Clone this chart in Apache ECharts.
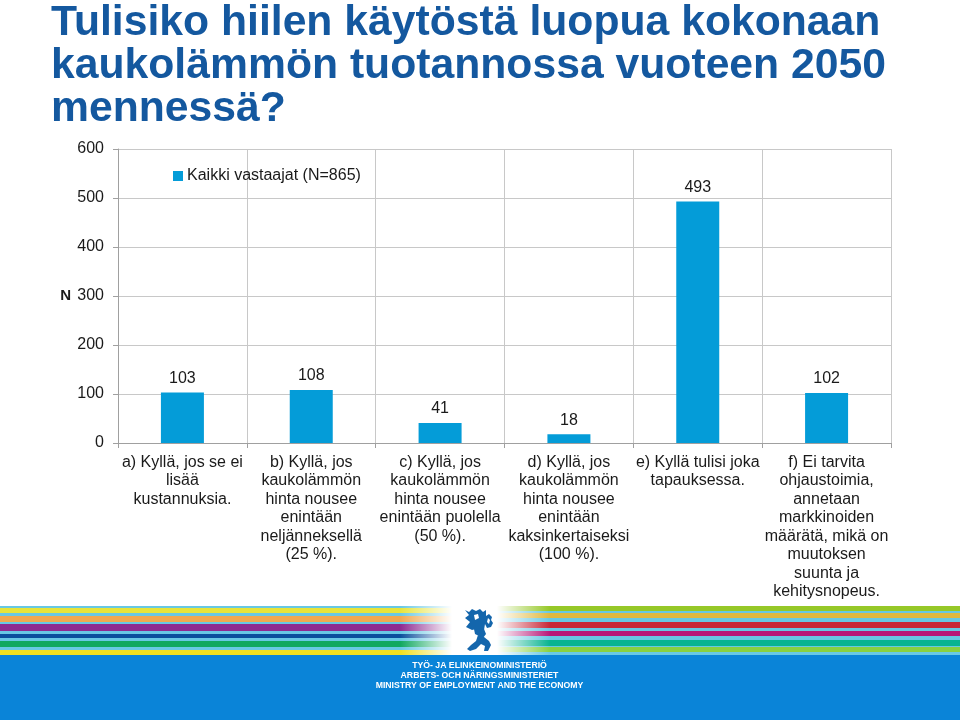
<!DOCTYPE html>
<html><head><meta charset="utf-8">
<style>html,body{margin:0;padding:0;background:#fff}#c{width:960px;height:720px}</style>
<script src="https://cdn.jsdelivr.net/npm/echarts@6/dist/echarts.min.js"></script>
</head><body><div id="c"></div>
<script>
const titleText = "Tulisiko hiilen käytöstä luopua kokonaan\nkaukolämmön tuotannossa vuoteen 2050\nmennessä?";
const seriesName = "Kaikki vastaajat (N=865)";
const categories = [
 "a) Kyllä, jos se ei\nlisää\nkustannuksia.",
 "b) Kyllä, jos\nkaukolämmön\nhinta nousee\nenintään\nneljänneksellä\n(25 %).",
 "c) Kyllä, jos\nkaukolämmön\nhinta nousee\nenintään puolella\n(50 %).",
 "d) Kyllä, jos\nkaukolämmön\nhinta nousee\nenintään\nkaksinkertaiseksi\n(100 %).",
 "e) Kyllä tulisi joka\ntapauksessa.",
 "f) Ei tarvita\nohjaustoimia,\nannetaan\nmarkkinoiden\nmäärätä, mikä on\nmuutoksen\nsuunta ja\nkehitysnopeus."
];
const values = [103,108,41,18,493,102];
const footerLines = ["TYÖ- JA ELINKEINOMINISTERIÖ","ARBETS- OCH NÄRINGSMINISTERIET","MINISTRY OF EMPLOYMENT AND THE ECONOMY"];
const font = '"Liberation Sans", Arial, sans-serif';

const leftStripes = [[608,5,'#e8e43a'],[616,6,'#f0a850'],[624,7,'#8e2a90'],[634,4,'#0b4f9c'],[641,6,'#10a860'],[650,5,'#f0e020']];
const rightStripes = [[606,5,'#96c828'],[613,5,'#e0b840'],[622,6,'#c82838'],[631,5,'#b81878'],[640,6,'#08b490'],[647,5,'#88d040']];
const stripe = (x,w,s)=>({type:'rect',silent:true,shape:{x:x,y:s[0],width:w,height:s[1]},style:{fill:s[2]}});
const fade = (x,w,from,to)=>({type:'rect',silent:true,shape:{x:x,y:606,width:w,height:49},
  style:{fill:new echarts.graphic.LinearGradient(0,0,1,0,[{offset:0,color:from},{offset:1,color:to}])}});
const white0='rgba(255,255,255,0)', white1='rgba(255,255,255,1)';
const lionBlue = '#1466ac';
const lionParts = [
 [[465,610],[469,612],[472,609],[476,611],[480,609],[483,612],[486,610],[486,616],[489,614],[492,617],[491,620],[493,623],[491,627],[487,628],[485,624],[484,630],[480,631],[476,629],[472,630],[466,627],[470,622],[465,618],[469,615]],
 [[474,629],[484,629],[486,634],[483,638],[479,636],[475,634]],
 [[478,635],[484,637],[489,641],[491,645],[488,651],[484,651],[485,646],[481,644],[476,649],[470,651],[467,649],[471,645],[476,641]]
];
const lionHoles = [[[474,615],[478,614],[479,618],[475,620]],[[488,618],[490,620],[489,624],[487,622]]];
const poly = (pts,fill)=>({type:'polygon',silent:true,shape:{points:pts},style:{fill:fill}});

const chart = echarts.init(document.getElementById('c'),null,{renderer:'canvas'});
chart.setOption({
 animation:false,
 backgroundColor:'#fff',
 textStyle:{fontFamily:font},
 title:{text:titleText,left:46,top:-3,textStyle:{fontFamily:font,fontWeight:'bold',fontSize:42.7,lineHeight:43,color:'#14589f'}},
 legend:{data:[{name:seriesName,icon:'rect'}],left:168,top:163,itemWidth:10,itemHeight:10,itemGap:4,
   textStyle:{fontFamily:font,fontSize:16,color:'#1a1a1a',padding:[0,0,0,-1]}},
 grid:{left:118,right:69,top:149,bottom:277,containLabel:false},
 xAxis:{type:'category',data:categories,
   axisLine:{lineStyle:{color:'#a0a0a0',width:1}},
   axisTick:{show:true,alignWithLabel:false,length:5,lineStyle:{color:'#a0a0a0'}},
   splitLine:{show:true,lineStyle:{color:'#c8c8c8',width:1}},
   axisLabel:{interval:0,fontFamily:font,fontSize:16,lineHeight:18.5,color:'#1a1a1a',margin:10,align:'center'}},
 yAxis:{type:'value',min:0,max:600,interval:100,name:'N',nameLocation:'middle',nameGap:47,nameRotate:0,
   nameTextStyle:{fontFamily:font,fontSize:15,color:'#1a1a1a',fontWeight:'bold'},
   axisLine:{show:true,lineStyle:{color:'#a0a0a0',width:1}},
   axisTick:{show:true,length:5,lineStyle:{color:'#a0a0a0'}},
   splitLine:{show:true,lineStyle:{color:'#c8c8c8',width:1}},
   axisLabel:{fontFamily:font,fontSize:16,color:'#1a1a1a',margin:14}},
 series:[{type:'bar',name:seriesName,data:values,barWidth:43,
   itemStyle:{color:'#049cd8'},
   label:{show:true,position:'top',distance:6,fontFamily:font,fontSize:16,color:'#1a1a1a'}}],
 graphic:{elements:[
   {type:'rect',silent:true,shape:{x:0,y:655,width:960,height:65},style:{fill:'#0a84d8'}},
   {type:'rect',silent:true,shape:{x:0,y:606,width:960,height:49},style:{fill:'#68c8e4'}},
   ...leftStripes.map(s=>stripe(0,480,s)),
   ...rightStripes.map(s=>stripe(480,480,s)),
   fade(400,52,white0,white1),
   {type:'rect',silent:true,shape:{x:452,y:606,width:45,height:49},style:{fill:'#fff'}},
   fade(497,53,white1,white0),
   ...lionParts.map(p=>poly(p,lionBlue)),
   ...lionHoles.map(p=>poly(p,'#fff')),
   ...footerLines.map((t,i)=>({type:'text',silent:true,style:{text:t,x:479.5,y:665.5+i*10,align:'center',verticalAlign:'middle',
      fontFamily:font,fontSize:8.7,fontWeight:'bold',fill:'#fff'}}))
 ]}
});
</script></body></html>
